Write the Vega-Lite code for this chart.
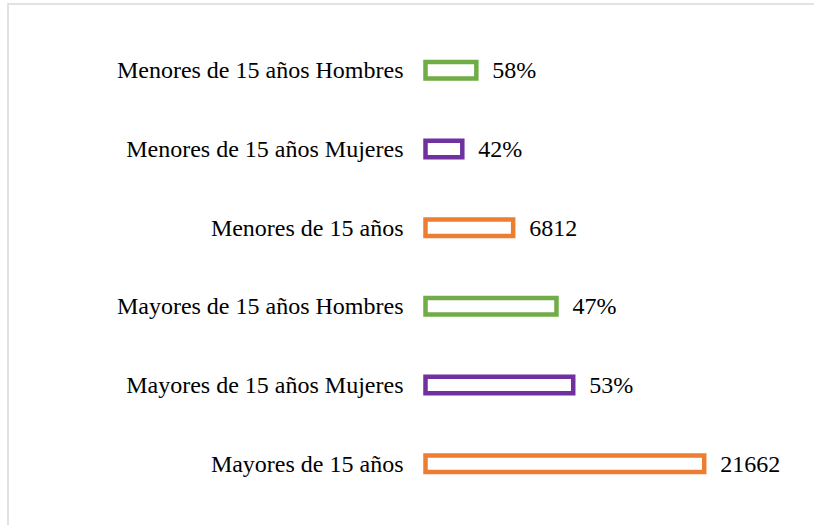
{
  "$schema": "https://vega.github.io/schema/vega-lite/v6.json",
  "width": 810,
  "height": 525,
  "autosize": "none",
  "padding": {"left": 8, "top": 4, "right": -4, "bottom": -4},
  "background": "white",
  "config": {"view": {"stroke": "#d9d9d9", "strokeWidth": 1.5}},
  "data": {
    "values": [
      {"cat": "Menores de 15 años Hombres", "value": 3951, "label": "58%", "grp": "Hombres"},
      {"cat": "Menores de 15 años Mujeres", "value": 2861, "label": "42%", "grp": "Mujeres"},
      {"cat": "Menores de 15 años", "value": 6812, "label": "6812", "grp": "Total"},
      {"cat": "Mayores de 15 años Hombres", "value": 10181, "label": "47%", "grp": "Hombres"},
      {"cat": "Mayores de 15 años Mujeres", "value": 11481, "label": "53%", "grp": "Mujeres"},
      {"cat": "Mayores de 15 años", "value": 21662, "label": "21662", "grp": "Total"}
    ]
  },
  "encoding": {
    "y": {
      "field": "cat",
      "type": "nominal",
      "sort": null,
      "axis": null,
      "scale": {"range": [27, 499], "paddingInner": 0, "paddingOuter": 0}
    }
  },
  "layer": [
    {
      "mark": {"type": "bar", "size": 16.5, "fill": "white", "strokeWidth": 4.5},
      "encoding": {
        "x": {
          "field": "value",
          "type": "quantitative",
          "axis": null,
          "scale": {"domain": [0, 30000], "range": [417.5, 803.5], "nice": false, "zero": true}
        },
        "stroke": {
          "field": "grp",
          "type": "nominal",
          "scale": {"domain": ["Hombres", "Mujeres", "Total"], "range": ["#70ad47", "#7030a0", "#ed7d31"]},
          "legend": null
        }
      }
    },
    {
      "mark": {"type": "text", "align": "left", "baseline": "middle", "dx": 16, "dy": 1, "font": "Liberation Serif", "fontSize": 24, "color": "#000000"},
      "encoding": {
        "x": {"field": "value", "type": "quantitative"},
        "text": {"field": "label"}
      }
    },
    {
      "mark": {"type": "text", "align": "right", "baseline": "middle", "dx": -22, "dy": 1, "font": "Liberation Serif", "fontSize": 24, "color": "#000000"},
      "encoding": {
        "x": {"datum": 0, "type": "quantitative"},
        "text": {"field": "cat"}
      }
    }
  ]
}
